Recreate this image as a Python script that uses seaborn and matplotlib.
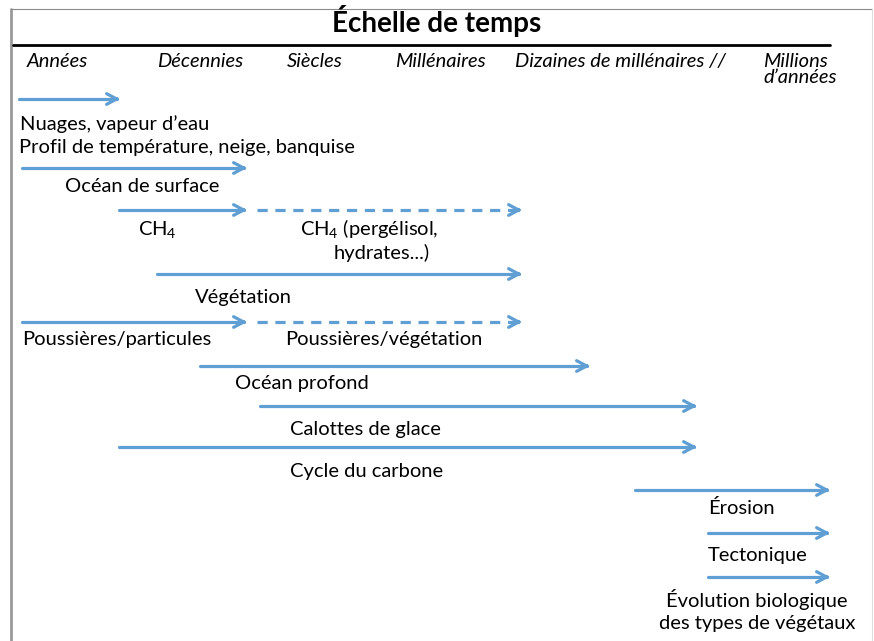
import pandas as pd
import matplotlib
matplotlib.use("Agg")
import matplotlib.pyplot as plt
import seaborn as sns

# Time-scale header (x position in figure pixels)
scale_labels = ["Années", "Décennies", "Siècles", "Millénaires",
                "Dizaines de millénaires //", "Millions\nd’années"]
scale_x = [57, 200, 315, 440, 620, 763]
scale_ha = ["center"] * 5 + ["left"]

# Arrow segments: row height, start, end, solid or dashed
seg_y = [99, 168, 210, 210, 274, 322, 322, 366, 406, 447, 490, 533, 577]
seg_x0 = [19, 22, 119, 257, 157, 22, 257, 200, 260, 119, 635, 708, 708]
seg_x1 = [120, 247, 247, 522, 522, 247, 522, 590, 697, 697, 830, 830, 830]
seg_kind = ["solid", "solid", "solid", "dashed", "solid", "solid", "dashed",
            "solid", "solid", "solid", "solid", "solid", "solid"]

# Process labels
proc_labels = ["Nuages, vapeur d’eau", "Profil de température, neige, banquise",
               "Océan de surface", "CH$_4$", "CH$_4$ (pergélisol,", "hydrates...)",
               "Végétation", "Poussières/particules", "Poussières/végétation",
               "Océan profond", "Calottes de glace", "Cycle du carbone",
               "Érosion", "Tectonique", "Évolution biologique",
               "des types de végétaux"]
proc_x = [20, 19, 65, 138, 300, 334, 195, 22, 285, 235, 290, 290, 708, 708, 757, 757]
proc_y = [124, 148, 186, 229, 229, 253, 297, 339, 339, 383, 430, 471, 508, 555, 600, 623]
proc_ha = ["left"] * 14 + ["center", "center"]

sns.set_theme(style="white")
plt.rcParams["font.family"] = ["Lato", "DejaVu Sans"]
plt.rcParams["mathtext.default"] = "regular"
plt.rcParams["text.color"] = "black"

blue = "#5f9fd3"

fig = plt.figure(figsize=(8.74, 6.41), dpi=100)
ax = fig.add_axes([0, 0, 1, 1])

# arrow shafts via seaborn
rows = []
for i, (y, x0, x1, k) in enumerate(zip(seg_y, seg_x0, seg_x1, seg_kind)):
    rows.append({"seg": i, "x": x0, "y": y, "kind": k})
    rows.append({"seg": i, "x": x1 - 3, "y": y, "kind": k})
df = pd.DataFrame(rows)
sns.lineplot(data=df, x="x", y="y", units="seg", style="kind", estimator=None,
             dashes={"solid": "", "dashed": (3.2, 2.4)}, color=blue, lw=2.3,
             legend=False, ax=ax, sort=False)
ax.set_xlim(0, 874)
ax.set_ylim(641, 0)
ax.axis("off")

# frame
ax.plot([10.5, 10.5], [9, 641], color="#9a9a9a", lw=2)
ax.plot([10.5, 872], [9, 9], color="#8a8a8a", lw=0.8)
ax.plot([872, 872], [9, 641], color="#dddddd", lw=0.8)

# title and rule
ax.text(437, 21, "Échelle de temps", ha="center", va="center",
        fontsize=20, fontweight="bold")
ax.plot([13, 830], [45, 45], color="black", lw=2)

for lab, x, ha in zip(scale_labels, scale_x, scale_ha):
    ax.text(x, 53, lab, ha=ha, va="top", fontsize=14.5,
            style="italic", linespacing=0.95, multialignment="left")

# arrow heads
for y, x1 in zip(seg_y, seg_x1):
    ax.annotate("", xy=(x1, y), xytext=(x1 - 6, y),
                arrowprops=dict(arrowstyle="->,head_length=0.6,head_width=0.32",
                                color=blue, lw=2.3, shrinkA=0, shrinkB=0))

for lab, x, y, ha in zip(proc_labels, proc_x, proc_y, proc_ha):
    ax.text(x, y, lab, ha=ha, va="center", fontsize=14.5)

fig.savefig("out.png", dpi=100, facecolor="white")
